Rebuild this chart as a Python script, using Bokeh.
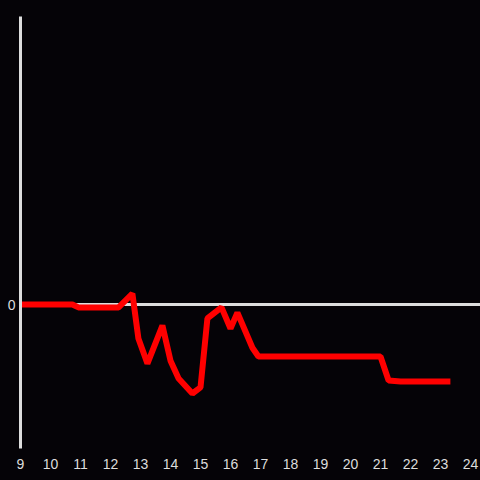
from bokeh.plotting import figure
from bokeh.models import Range1d, FixedTicker, Span
from bokeh.embed import file_html
from bokeh.resources import INLINE

hours = [9.0, 10.73, 10.93, 12.27, 12.73, 12.93, 13.23, 13.73, 14.0, 14.27, 14.73,
         15.0, 15.23, 15.7, 16.0, 16.23, 16.73, 16.93, 21.0, 21.27, 21.67, 23.33]
values = [0.0, 0.0, -0.02, -0.02, 0.076, -0.236, -0.41, -0.146, -0.39, -0.514, -0.618,
          -0.576, -0.097, -0.02, -0.167, -0.056, -0.30, -0.361, -0.361, -0.528, -0.535, -0.535]
x_ticks = list(range(9, 25))
y_ticks = [0]

BG = "#050307"
FG = "#dddddd"

p = figure(width=480, height=480, output_backend="svg", toolbar_location=None,
           x_range=Range1d(9, 9 + 460 / 30), y_range=Range1d(-1, 2),
           background_fill_color=None, border_fill_color=None,
           min_border_left=20, min_border_right=0, min_border_top=16, min_border_bottom=32)
p.styles = {"background-color": BG}
p.outline_line_color = None
p.grid.visible = False

p.xaxis.ticker = FixedTicker(ticks=x_ticks)
p.xaxis.axis_line_color = None
p.xaxis.major_tick_line_color = None
p.xaxis.minor_tick_line_color = None
p.xaxis.major_label_standoff = 4
p.xaxis.major_label_text_color = FG
p.xaxis.major_label_text_font = "Liberation Sans"
p.xaxis.major_label_text_font_size = "14px"

p.yaxis.ticker = FixedTicker(ticks=y_ticks)
p.yaxis.axis_line_color = FG
p.yaxis.axis_line_width = 3
p.yaxis.major_tick_line_color = None
p.yaxis.minor_tick_line_color = None
p.yaxis.major_tick_out = 0
p.yaxis.major_tick_in = 0
p.yaxis.major_label_standoff = 5
p.yaxis.major_label_text_color = FG
p.yaxis.major_label_text_font = "Liberation Sans"
p.yaxis.major_label_text_font_size = "14px"

p.add_layout(Span(location=0, dimension="width", line_color=FG, line_width=3, level="underlay"))

p.line(hours, values, line_color="#ff0000", line_width=6)

html = file_html(p, INLINE)
html = html.replace("<body>", '<body style="margin:0;background:%s;overflow:hidden">' % BG, 1)
open("out.html", "w").write(html)
